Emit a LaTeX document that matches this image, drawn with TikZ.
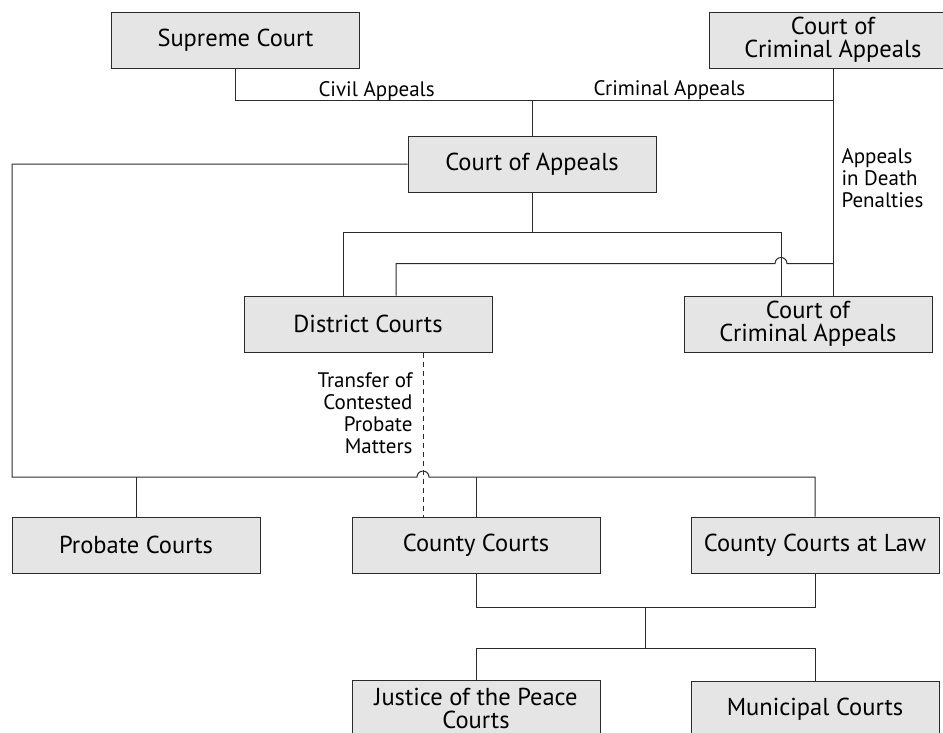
\documentclass[tikz,border=0pt]{standalone}
\usepackage{fontspec}
\setmainfont{PT Sans}
\usepackage{xcolor}
\usetikzlibrary{calc}
\newcommand{\boxwidth}{248pt}
\newcommand{\boxheight}{56pt}
\definecolor{courtfill}{HTML}{E5E5E5}
\definecolor{wirecol}{HTML}{2B2B2B}

\begin{document}
\begin{tikzpicture}[x=1pt,y=-1pt,line width=1pt]
\clip (0,0) rectangle (943,732);
\tikzstyle{court}=[draw=wirecol,
                   fill=courtfill,
                   minimum width  = \boxwidth,
                   minimum height = \boxheight,
                   inner sep=0pt,
                   align=center,
                   font=\fontsize{24.5}{23}\selectfont
                   ]
\tikzstyle{note}=[inner sep=0pt,
                  font=\fontsize{21}{22}\selectfont
                  ]
\tikzstyle{link}=[draw=wirecol]
\tikzstyle{transfer}=[draw=wirecol,dash pattern=on 5pt off 4pt]
\node[court] (sc)  at (235.5,40) {Supreme Court};
\node[court] (cca) at (833,40)   {Court of\\Criminal Appeals};
\node[court] (ca)  at (532,164)  {Court of Appeals};
\node[court] (dc)  at (368,324)  {District Courts};
\node[court] (ccb) at (808,324)  {Court of\\Criminal Appeals};
\node[court] (pc)  at (136,545)  {Probate Courts};
\node[court] (cc)  at (476,545)  {County Courts};
\node[court] (cl)  at (815,545)  {County Courts at Law};
\node[court] (jp)  at (476,708)  {Justice of the Peace\\Courts};
\node[court] (mc)  at (815,709)  {Municipal Courts};
\node[note,anchor=base west] (civil) at (318,96) {Civil Appeals};
\node[note,anchor=base west] (crim)  at (593,95) {Criminal Appeals};
\node[note,anchor=base west,align=left]  (death) at (841,207) {Appeals\\in Death\\Penalties};
\node[note,anchor=base east,align=right] (probt) at (413,453) {Transfer of\\Contested\\Probate\\Matters};
% appeals into the top courts
\draw[link] (sc.south) -- ++(0,32) -| (cca.south);
\draw[link] (ca.north) -- ++(0,-36);
\draw[link] (cca.south) -- (cca.south |- ccb.north);
% court of appeals down to district and criminal appeals
\draw[link] (ca.south) -- ++(0,40) coordinate (cafork);
\draw[link] ([xshift=-25pt]dc.north) |- (cafork) -| ([xshift=-27pt]ccb.north) coordinate (hopa);
\coordinate (hopb) at ($(hopa)+(0,-32)$);
\draw[link] ([xshift=28pt]dc.north) |- ($(hopb)+(-6,0)$) arc[start angle=180,end angle=0,radius=6pt] -- (cca.south |- hopb);
% bus to the county level
\coordinate (bus)  at (12,477);
\coordinate (xfer) at ($(dc.south)+(55,0)$);
\draw[link] (ca.west) -| (bus) -- ($(xfer |- bus)+(-6,0)$) arc[start angle=180,end angle=0,radius=6pt] -- (cl.north |- bus) -- (cl.north);
\draw[link] (pc.north) -- (pc.north |- bus);
\draw[link] (cc.north) -- (cc.north |- bus);
\draw[transfer] (xfer) -- (xfer |- cc.north);
% county courts down to local courts
\draw[link] (cc.south) -- ++(0,34) -| coordinate[pos=0.25] (cfork) (cl.south);
\draw[link] (cfork) -- ++(0,41) coordinate (jfork);
\draw[link] (jp.north) |- (jfork) -| (mc.north);
\end{tikzpicture}
\end{document}
